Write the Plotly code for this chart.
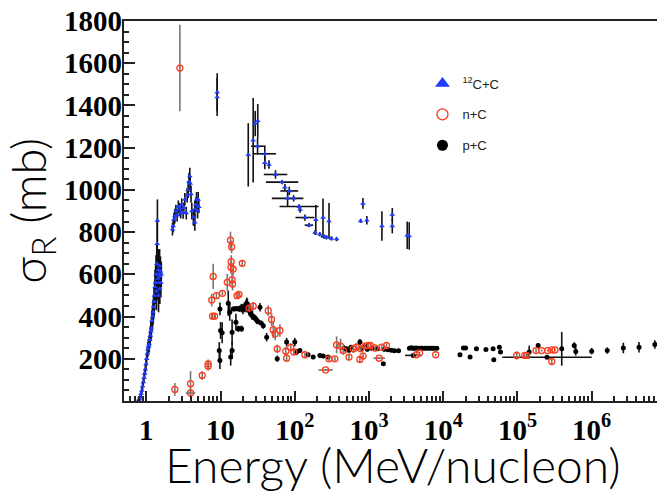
import numpy as np
import plotly.graph_objects as go

# ---------------- data ----------------
# 12C + C : energy (MeV/nucleon), sigma_R (mb), d_sigma (mb), horizontal error factor
cc_E = [0.79, 0.81, 0.83, 0.85, 0.87, 0.89, 0.91, 0.93, 0.95, 0.97, 0.99, 1.01, 1.03, 1.05, 1.07,
        1.09, 1.11, 1.13, 1.15, 1.17, 1.19, 1.21, 1.23, 1.25, 1.27, 1.29, 1.31, 1.33, 1.35, 1.37,
        1.38, 1.40, 1.41, 1.43, 1.45, 1.47, 1.49, 1.51, 1.53, 1.55, 1.57, 1.59, 1.46, 1.52,
        2.25, 2.3, 2.35, 2.42, 2.5, 2.6, 2.7, 2.83, 2.9, 3.0, 3.13, 3.2, 3.3, 3.45, 3.55, 3.66,
        3.75, 3.85, 3.9, 4.0, 4.1, 4.3, 4.5, 4.5, 4.65, 4.75, 4.9, 5.0, 5.1,
        9.0, 9.0, 23.6, 27.5, 29.3, 31.7, 31.5, 39.4, 39.4, 44.9, 55, 67.5, 73.5, 84.3, 80, 96.5,
        114, 118, 137, 155, 192, 240, 289, 187, 217, 247, 267, 312, 366,
        828, 771, 935, 1493, 2058, 2058, 3273, 3480]
cc_S = [5, 12, 20, 35, 50, 70, 90, 110, 130, 150, 175, 200, 225, 245, 260,
        270, 290, 310, 330, 345, 380, 400, 420, 445, 470, 500, 540, 560, 600, 520,
        650, 745, 855, 580, 620, 560, 600, 640, 590, 615, 560, 600, 500, 530,
        814, 829, 860, 876, 900, 880, 920, 908, 890, 930, 893, 915, 955, 890, 975, 1002,
        1040, 1065, 1030, 980, 900, 870, 908, 847, 930, 955, 900, 955, 920,
        1462, 1440, 1166, 1235, 1314, 1327, 1207, 1171, 1128, 1120, 1073, 1037, 1013, 995, 960, 960,
        921, 907, 869, 833, 858, 869, 853, 798, 790, 779, 775, 770, 767,
        936, 853, 856, 829, 884, 829, 785, 782]
cc_dS = [10, 10, 15, 15, 20, 20, 20, 25, 25, 25, 30, 30, 30, 35, 35,
         40, 40, 45, 45, 50, 50, 55, 60, 60, 70, 70, 80, 80, 90, 90,
         100, 120, 100, 100, 100, 100, 90, 80, 80, 70, 70, 60, 80, 70,
         30, 30, 30, 35, 30, 30, 30, 30, 25, 30, 30, 25, 30, 30, 35, 40,
         40, 40, 40, 40, 40, 40, 40, 40, 35, 35, 35, 35, 30,
         90, 90, 150, 200, 60, 80, 40, 40, 30, 20, 20, 10, 15, 20, 40, 15,
         10, 15, 15, 10, 70, 90, 85, 10, 10, 10, 10, 10, 10,
         25, 10, 20, 70, 30, 35, 65, 65]
cc_fx = [1] * 73 + [1, 1, 1, 1, 1, 1, 1.22, 1.42, 1, 1, 1.44, 1.65, 1, 1.32, 1.63, 1,
                    1.83, 1, 1.34, 1.14, 1, 1, 1, 1, 1, 1.1, 1, 1, 1,
                    1, 1, 1, 1, 1, 1, 1, 1]

# n + C
nc_E = [2.83, 2.42, 3.94, 3.94, 5.66, 6.8, 6.8, 7.6, 7.95, 7.8, 8.3, 8.8, 10.6, 12.3, 13.6, 14.1,
        13.8, 14.8, 14.5, 13.9, 14.3, 16.7, 17.7, 19.6, 24.2, 27.5, 43.9, 48.6, 51.3, 54.3, 58, 63,
        75.6, 77.6, 88, 97, 137, 260, 289, 347, 366, 414, 451, 537, 612, 678, 754, 773, 831, 880,
        972, 1040, 1200, 1370, 1480, 1720, 4360, 4810, 7900, 97600, 125000, 133000, 178000,
        212000, 255000, 290000, 320000, 290000]
nc_S = [1577, 55, 82, 38, 121, 176, 165, 478, 590, 402, 402, 499, 510, 562, 762, 730,
        633, 625, 554, 660, 575, 499, 505, 652, 440, 449, 428, 386, 338, 318, 247, 334,
        236, 203, 254, 232, 219, 147, 200, 200, 266, 260, 239, 208, 247, 255, 197, 247, 213, 260,
        263, 263, 251, 203, 255, 263, 219, 228, 219, 216, 216, 216, 239,
        239, 239, 242, 242, 187]
nc_dS = [205, 30, 60, 10, 20, 20, 20, 30, 60, 15, 15, 15, 10, 40, 40, 30,
         30, 30, 30, 30, 30, 10, 10, 15, 15, 20, 25, 30, 40, 30, 20, 30,
         20, 15, 20, 15, 10, 5, 10, 10, 40, 35, 20, 15, 20, 20, 15, 15, 15, 15,
         15, 10, 10, 5, 10, 10, 5, 5, 5, 20, 10, 10, 10,
         5, 5, 5, 5, 15]
nc_fx = [1, 1, 1, 1.16] + [1] * 33 + [1.25] + [1] * 15 + [1.2] + [1] * 14

# p + C
pc_E = [9.8, 10.0, 10.5, 9.6, 9.8, 12.7, 13.3, 14.3, 13.7, 14.3, 16.1, 17.3, 18.2, 19.2,
        14.8, 15.5, 16.3, 17.1, 18, 19, 20, 21, 22, 23, 24, 25,
        22.5, 24, 25.5, 26.5, 27.5, 28.5, 30, 31, 32, 34, 35, 37.6, 41.8, 58, 77.6, 100, 106, 117,
        151, 177, 218, 241, 281, 460, 500, 540, 570, 754, 800, 900, 950, 1100, 1300, 1560, 1600,
        1800, 2000, 2200, 2500, 3500, 3700, 3900, 4100, 4300, 4600, 4900, 5200, 5600, 6000, 6500,
        7000, 7500, 8200, 3950, 16800, 18700, 20000, 23000, 28000, 37600, 47000, 48000, 57000,
        59000, 144000, 190000, 395000, 250000, 582000, 610000, 1.0e6, 1.62e6, 2.67e6, 4.34e6, 7.1e6]
pc_S = [436, 334, 323, 239, 192, 463, 420, 326, 208, 239, 373, 342, 342, 342,
        436, 436, 438, 436, 437, 440, 436, 445, 450, 455, 430, 420,
        460, 440, 420, 405, 400, 395, 389, 380, 375, 444, 370, 357, 302, 200, 279, 279, 232, 239,
        219, 208, 216, 213, 208, 250, 245, 240, 255, 279, 250, 260, 245, 250, 247, 176, 245,
        243, 240, 238, 238, 250, 252, 250, 250, 251, 250, 250, 250, 250, 250, 250,
        250, 250, 250, 216, 219, 251, 251, 208, 247, 244, 247, 195, 255,
        232, 232, 263, 247, 207, 263, 235, 236, 239, 251, 255, 268]
pc_dS = [30, 40, 50, 40, 40, 60, 40, 60, 40, 40, 40, 15, 10, 15,
         10, 10, 10, 10, 15, 20, 25, 25, 30, 30, 25, 20,
         30, 30, 20, 20, 15, 15, 15, 15, 10, 20, 10, 15, 20, 15, 20, 20, 15, 10,
         10, 10, 10, 10, 10, 15, 15, 10, 10, 15, 10, 10, 10, 10, 10, 5, 10,
         10, 5, 5, 5, 5, 5, 5, 5, 5, 5, 5, 5, 5, 5, 5,
         5, 5, 5, 5, 5, 5, 5, 5, 5, 5, 5, 5, 8,
         5, 30, 10, 80, 5, 15, 20, 15, 15, 25, 25, 20]
pc_fx = [1] * 79 + [1.29] + [1] * 13 + [4] + [1] * 7

x_tickvals = [1, 10, 100, 1e3, 1e4, 1e5, 1e6]
x_ticktext = ["1", "10", "10<sup>2</sup>", "10<sup>3</sup>", "10<sup>4</sup>", "10<sup>5</sup>", "10<sup>6</sup>"]
y_tickvals = [200, 400, 600, 800, 1000, 1200, 1400, 1600, 1800]

# ---------------- figure ----------------
BLUE = "#1e3cff"
RED = "#ff3a1a"
SERIF = "Liberation Serif, DejaVu Serif, Times New Roman, serif"
THIN = "Lato, DejaVu Sans, sans-serif"


def xerr(E, f):
    E = np.asarray(E, float)
    f = np.asarray(f, float)
    return E * (f - 1), E * (1 - 1 / f)


fig = go.Figure()

for E, S, dS, fx, marker, ecol in [
    (cc_E, cc_S, cc_dS, cc_fx, dict(symbol="triangle-up", size=5, color=BLUE), "#111111"),
    (pc_E, pc_S, pc_dS, pc_fx, dict(symbol="circle", size=5, color="black"), "#111111"),
    (nc_E, nc_S, nc_dS, nc_fx, dict(symbol="circle-open", size=6, color=RED,
                                    line=dict(width=1.3, color=RED)), "#777777"),
]:
    hi, lo = xerr(E, fx)
    fig.add_trace(go.Scatter(
        x=E, y=S, mode="markers", marker=marker, showlegend=False,
        error_y=dict(type="data", array=dS, visible=True, color=ecol, thickness=1.6, width=0),
        error_x=dict(type="data", array=hi, arrayminus=lo, visible=True, color=ecol,
                     thickness=1.6, width=0),
    ))

# legend entries (placed on the label-only overlay axis)
fig.add_trace(go.Scatter(x=[None], y=[None], yaxis="y2", mode="markers", name="<sup>12</sup>C+C",
                         marker=dict(symbol="triangle-up", size=13, color=BLUE), legendgroup="a"))
fig.add_trace(go.Scatter(x=[None], y=[None], yaxis="y2", mode="markers", name="n+C",
                         marker=dict(symbol="circle-open", size=11, color=RED,
                                     line=dict(width=1.3, color=RED)), legendgroup="b"))
fig.add_trace(go.Scatter(x=[None], y=[None], yaxis="y2", mode="markers", name="p+C",
                         marker=dict(symbol="circle", size=11, color="black"), legendgroup="c"))

minor_x = [m * 10 ** k for k in range(-1, 7) for m in range(2, 10)]

fig.update_layout(
    width=657, height=496,
    margin=dict(l=124, r=0, t=21, b=95),
    paper_bgcolor="white", plot_bgcolor="white",
    showlegend=True,
    legend=dict(x=0.56, y=0.875, xanchor="left", yanchor="top", bgcolor="rgba(0,0,0,0)",
                font=dict(family="Liberation Sans", size=13, color="#222"),
                tracegroupgap=11, itemwidth=30),
    xaxis=dict(type="log", range=[np.log10(0.5), 6.88], showgrid=False, zeroline=False,
               showline=True, linecolor="#222", linewidth=1.5, mirror=True,
               ticks="inside", ticklen=10, tickwidth=1.5, tickcolor="#222",
               tickmode="array", tickvals=x_tickvals, ticktext=x_ticktext,
               tickfont=dict(family=SERIF, size=29, color="black", weight="bold"),
               ticklabelstandoff=2,
               minor=dict(tickmode="array", tickvals=minor_x, ticks="inside", ticklen=5,
                          tickwidth=1.5, tickcolor="#222", showgrid=False)),
    yaxis=dict(range=[0, 1800], showgrid=False, zeroline=False,
               showline=True, linecolor="#222", linewidth=1.5,
               ticks="inside", ticklen=11, tickwidth=1.5, tickcolor="#222",
               tickmode="array", tickvals=y_tickvals, showticklabels=False,
               minor=dict(dtick=50, ticks="inside", ticklen=5, tickwidth=1.5,
                          tickcolor="#222", showgrid=False)),
    yaxis2=dict(range=[0, 1800], matches="y", overlaying="y", anchor="free", position=0,
                side="left", showgrid=False, zeroline=False, showline=False, ticks="",
                tickmode="array", tickvals=y_tickvals, ticklabelstandoff=2,
                tickfont=dict(family=SERIF, size=29, color="black", weight="bold")),
    annotations=[
        dict(text="Energy (MeV/nucleon)", xref="paper", yref="paper", x=0.505, y=-0.168,
             xanchor="center", yanchor="middle", showarrow=False,
             font=dict(family=THIN, size=48, color="black", weight=300)),
        dict(text="σ<sub>R</sub> (mb)", xref="paper", yref="paper", x=-0.175, y=0.5,
             xanchor="center", yanchor="middle", textangle=-90, showarrow=False,
             font=dict(family=THIN, size=47, color="black", weight=300)),
    ],
)

fig.write_html("out.html")
